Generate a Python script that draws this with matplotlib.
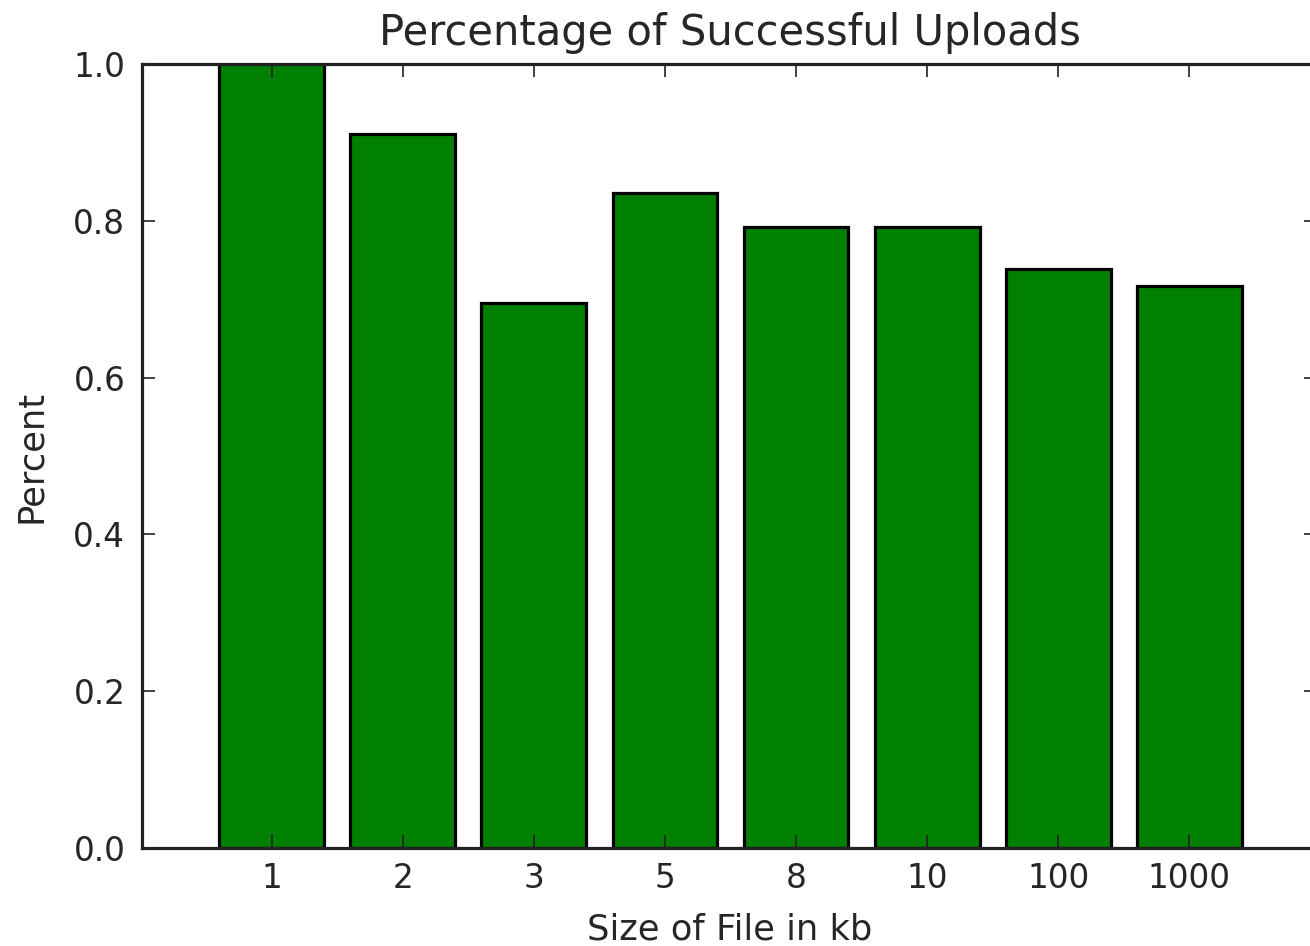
import matplotlib
matplotlib.use("Agg")
import matplotlib.pyplot as plt
import numpy as np

categories = ["1", "2", "3", "5", "8", "10", "100", "1000"]
values = [1.0, 0.911, 0.695, 0.835, 0.792, 0.792, 0.739, 0.717]
yticks = [0.0, 0.2, 0.4, 0.6, 0.8, 1.0]
ytick_labels = ["0.0", "0.2", "0.4", "0.6", "0.8", "1.0"]

W, H = 1310, 946
fig = plt.figure(figsize=(W / 100, H / 100), dpi=100)
txt = "#262626"

left, right, top, bottom = 142, 1317, 64, 848
ax = fig.add_axes([left / W, (H - bottom) / H, (right - left) / W, (bottom - top) / H])

x = np.arange(len(categories))
ax.bar(x, values, width=0.8, color=(0, 0.5, 0), edgecolor="black", linewidth=2.3, align="center")

ax.set_xlim(-0.99, 7.975)
ax.set_ylim(0, 1.0)
ax.set_xticks(x)
ax.set_xticklabels(categories)
ax.set_yticks(yticks)
ax.set_yticklabels(ytick_labels)

for s in ax.spines.values():
    s.set_linewidth(2.3)
    s.set_color("#222222")

ax.tick_params(axis="both", direction="in", length=9.2, width=1.2, color="#222222",
               labelsize=23.5, labelcolor=txt, top=True, right=True)
ax.tick_params(axis="x", pad=10)
ax.tick_params(axis="y", pad=12)

ax.set_title("Percentage of Successful Uploads", fontsize=30, color=txt, pad=14)
ax.set_xlabel("Size of File in kb", fontsize=25.4, color=txt, labelpad=12.5)
ax.set_ylabel("Percent", fontsize=25.4, color=txt, labelpad=18)

fig.savefig("out.png", dpi=100)
